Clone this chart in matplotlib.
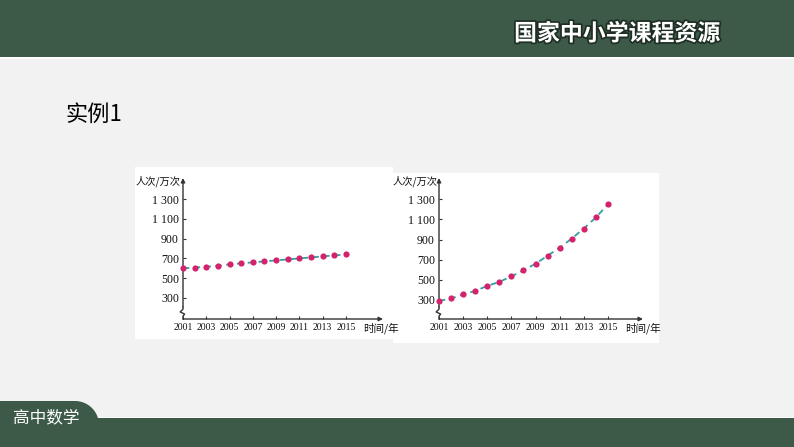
import numpy as np
import matplotlib
matplotlib.use("Agg")
import matplotlib.pyplot as plt
from matplotlib.patches import Rectangle, Polygon
import matplotlib.patheffects as pe

plt.rcParams['font.family'] = ['Noto Sans CJK SC', 'DejaVu Sans']

# ---- data ----
years = list(range(2001, 2016))
left_values = [600, 608, 615, 625, 640, 650, 660, 670, 680, 690, 700, 710, 720, 730, 740]
right_values = [290, 315, 355, 390, 440, 480, 535, 595, 660, 740, 820, 910, 1010, 1120, 1250]
x_ticks = list(range(2001, 2016, 2))
y_ticks = [300, 500, 700, 900, 1100, 1300]
y_tick_labels = ["300", "500", "700", "900", "1 100", "1 300"]
y_axis_label = "人次/万次"
x_axis_label = "时间/年"
header_title = "国家中小学课程资源"
section_title = "实例1"
footer_title = "高中数学"

W, H = 794, 447
fig = plt.figure(figsize=(W / 100, H / 100), dpi=100)
fig.patch.set_facecolor("#f2f2f2")

bg = fig.add_axes([0, 0, 1, 1])
bg.set_xlim(0, W)
bg.set_ylim(H, 0)
bg.axis("off")
bg.set_facecolor("none")

green = "#3c5a47"
# top band
bg.add_patch(Rectangle((0, 0), W, 57, color=green, lw=0))
bg.add_patch(Rectangle((0, 57), W, 1.5, color="white", lw=0))
bg.text(617, 34, header_title, color="white", fontsize=16.5, fontweight="bold",
        ha="center", va="center",
        path_effects=[pe.withStroke(linewidth=2.5, foreground="#1e2e24")])

# bottom band with tab
bg.add_patch(Rectangle((0, 416.5), W, 1.5, color="white", lw=0))
bg.add_patch(Rectangle((0, 418), W, H - 418, color=green, lw=0))
r = 24
ang = np.linspace(np.pi / 2, 0, 20)
cx, cy = 99 - r, 401 + r
arc = np.column_stack([cx + r * np.cos(ang), cy - r * np.sin(ang)])
tab = np.vstack([[[0, 420], [0, 401]], arc, [[99, 420]]])
bg.add_patch(Polygon(tab, closed=True, color=green, lw=0))
bg.text(46, 418, footer_title, color="white", fontsize=12, ha="center", va="center")

# section title
bg.text(65, 114, section_title, color="black", fontsize=16, ha="left", va="center")

# white panels
bg.add_patch(Rectangle((135, 167), 258, 172, color="white", lw=0))
bg.add_patch(Rectangle((393, 173), 266, 170, color="white", lw=0))


def make_chart(px_left, px_right, px_top, px_bottom, xmax, ymin, ymax, values, lab_x, xlab_x):
    ax = fig.add_axes([px_left / W, 1 - px_bottom / H,
                       (px_right - px_left) / W, (px_bottom - px_top) / H])
    ax.set_facecolor("none")
    ax.set_xlim(2001, xmax)
    ax.set_ylim(ymin, ymax)
    for s in ax.spines.values():
        s.set_visible(False)
    ax.plot(years, values, linestyle=(0, (3.5, 2.5)), color="#30a0a0", lw=1.3, zorder=3,
            clip_on=False)
    ax.scatter(years, values, s=20, color="#d4236c", zorder=4, clip_on=False, lw=0)
    ax.set_xticks(x_ticks)
    ax.set_xticklabels([str(v) for v in x_ticks], fontsize=7, family="Liberation Serif")
    ax.set_yticks(y_ticks)
    ax.set_yticklabels(y_tick_labels, fontsize=8.6, family="Liberation Serif")
    ax.tick_params(axis="both", direction="in", length=2.5, width=0.8, color="#333333",
                   labelcolor="#111111")
    ax.tick_params(axis="x", pad=3)
    ax.tick_params(axis="y", pad=3)
    k = "#333333"
    # x axis with arrow
    ax.annotate("", xy=(1.0, 0), xytext=(0, 0), xycoords="axes fraction",
                arrowprops=dict(arrowstyle="-|>", color=k, lw=1.0, mutation_scale=6,
                                shrinkA=0, shrinkB=0))
    # y axis with arrow
    ax.annotate("", xy=(0, 1.0), xytext=(0, 0.085), xycoords="axes fraction",
                arrowprops=dict(arrowstyle="-|>", color=k, lw=1.0, mutation_scale=6,
                                shrinkA=0, shrinkB=0))
    # break zigzag
    zz_x = [0, 0, -0.014, 0.008, 0, 0]
    zz_y = [0.085, 0.07, 0.05, 0.035, 0.02, 0]
    ax.plot(zz_x, zz_y, color=k, lw=1.0, transform=ax.transAxes, clip_on=False)
    bg.text(lab_x, 181, y_axis_label, fontsize=7.4, ha="left", va="center", color="#111111")
    bg.text(xlab_x, 328, x_axis_label, fontsize=7.6, ha="left", va="center", color="#111111")
    return ax


# left chart: y-axis at px 183, arrow end 383; x-axis at px 319, top 178
make_chart(183, 383, 178, 319, 2001 + 200 / 11.64, 300 - 21 / 0.099, 300 + 120 / 0.099,
           left_values, 136, 363)
# right chart
make_chart(439, 643, 178, 319, 2001 + 204 / 12.07, 300 - 19 / 0.1007, 300 + 122 / 0.1007,
           right_values, 393, 625)

fig.savefig("out.png", dpi=100, facecolor=fig.get_facecolor())
